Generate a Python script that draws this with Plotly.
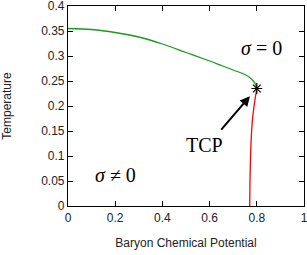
import plotly.graph_objects as go

# Data
green_mu = [0.0, 0.1, 0.2, 0.3, 0.4, 0.5, 0.6, 0.65, 0.7, 0.75, 0.77, 0.785, 0.795, 0.8]
green_T = [0.355, 0.353, 0.347, 0.338, 0.324, 0.307, 0.29, 0.281, 0.272, 0.263, 0.257, 0.25, 0.243, 0.235]
red_mu = [0.77, 0.771, 0.773, 0.775, 0.778, 0.782, 0.787, 0.793, 0.8]
red_T = [0.0, 0.05, 0.09, 0.12, 0.15, 0.175, 0.195, 0.215, 0.235]
tcp_mu = [0.8]
tcp_T = [0.235]
x_ticks = [0, 0.2, 0.4, 0.6, 0.8, 1]
x_tick_labels = ["0", "0.2", "0.4", "0.6", "0.8", "1"]
y_ticks = [0, 0.05, 0.1, 0.15, 0.2, 0.25, 0.3, 0.35, 0.4]
y_tick_labels = ["0", "0.05", "0.1", "0.15", "0.2", "0.25", "0.3", "0.35", "0.4"]

fig = go.Figure()
fig.add_trace(go.Scatter(x=green_mu, y=green_T, mode="lines",
                         line=dict(color="#1a9a1a", width=1.3, shape="spline"), showlegend=False))
fig.add_trace(go.Scatter(x=red_mu, y=red_T, mode="lines",
                         line=dict(color="#ff0000", width=1.3, shape="spline"), showlegend=False))
fig.add_trace(go.Scatter(x=tcp_mu, y=tcp_T, mode="markers",
                         marker=dict(symbol="asterisk-open", size=9, color="black",
                                     line=dict(color="black", width=1.2)), showlegend=False))

serif = dict(family="Liberation Serif, DejaVu Serif, serif", size=20, color="black")
fig.add_annotation(x=0.822, y=0.317, text="<i>σ</i>&nbsp;=&nbsp;0", showarrow=False, font=serif)
fig.add_annotation(x=0.203, y=0.063, text="<i>σ</i>&nbsp;≠&nbsp;0", showarrow=False, font=serif)
fig.add_annotation(x=0.58, y=0.123, text="TCP", showarrow=False, font=serif)
fig.add_annotation(x=0.771, y=0.2196, ax=0.644, ay=0.1496, axref="x", ayref="y",
                   xref="x", yref="y", text="", showarrow=True, arrowhead=2,
                   arrowsize=1, arrowwidth=2, arrowcolor="black")

axis_common = dict(showline=True, linecolor="black", linewidth=1.2, mirror="ticks",
                   ticks="inside", ticklen=5, tickcolor="black", showgrid=False,
                   zeroline=False, automargin=False, ticklabeloverflow="allow",
                   tickfont=dict(family="Liberation Sans, Arial, sans-serif",
                                 size=12, color="#222"))
fig.update_xaxes(range=[0, 1], tickvals=x_ticks, ticktext=x_tick_labels,
                 title=dict(text="Baryon Chemical Potential", standoff=15,
                            font=dict(family="Liberation Sans, Arial, sans-serif", size=12, color="#222")),
                 **axis_common)
fig.update_yaxes(range=[0, 0.4], tickvals=y_ticks, ticktext=y_tick_labels,
                 title=dict(text="Temperature", standoff=26,
                            font=dict(family="Liberation Sans, Arial, sans-serif", size=12, color="#222")),
                 **axis_common)
fig.update_layout(width=307, height=255, margin=dict(l=68, r=3, t=6, b=49),
                  plot_bgcolor="white", paper_bgcolor="white")
fig.write_html("out.html", config={"displayModeBar": False},
               post_script="document.body.style.margin='0';")
